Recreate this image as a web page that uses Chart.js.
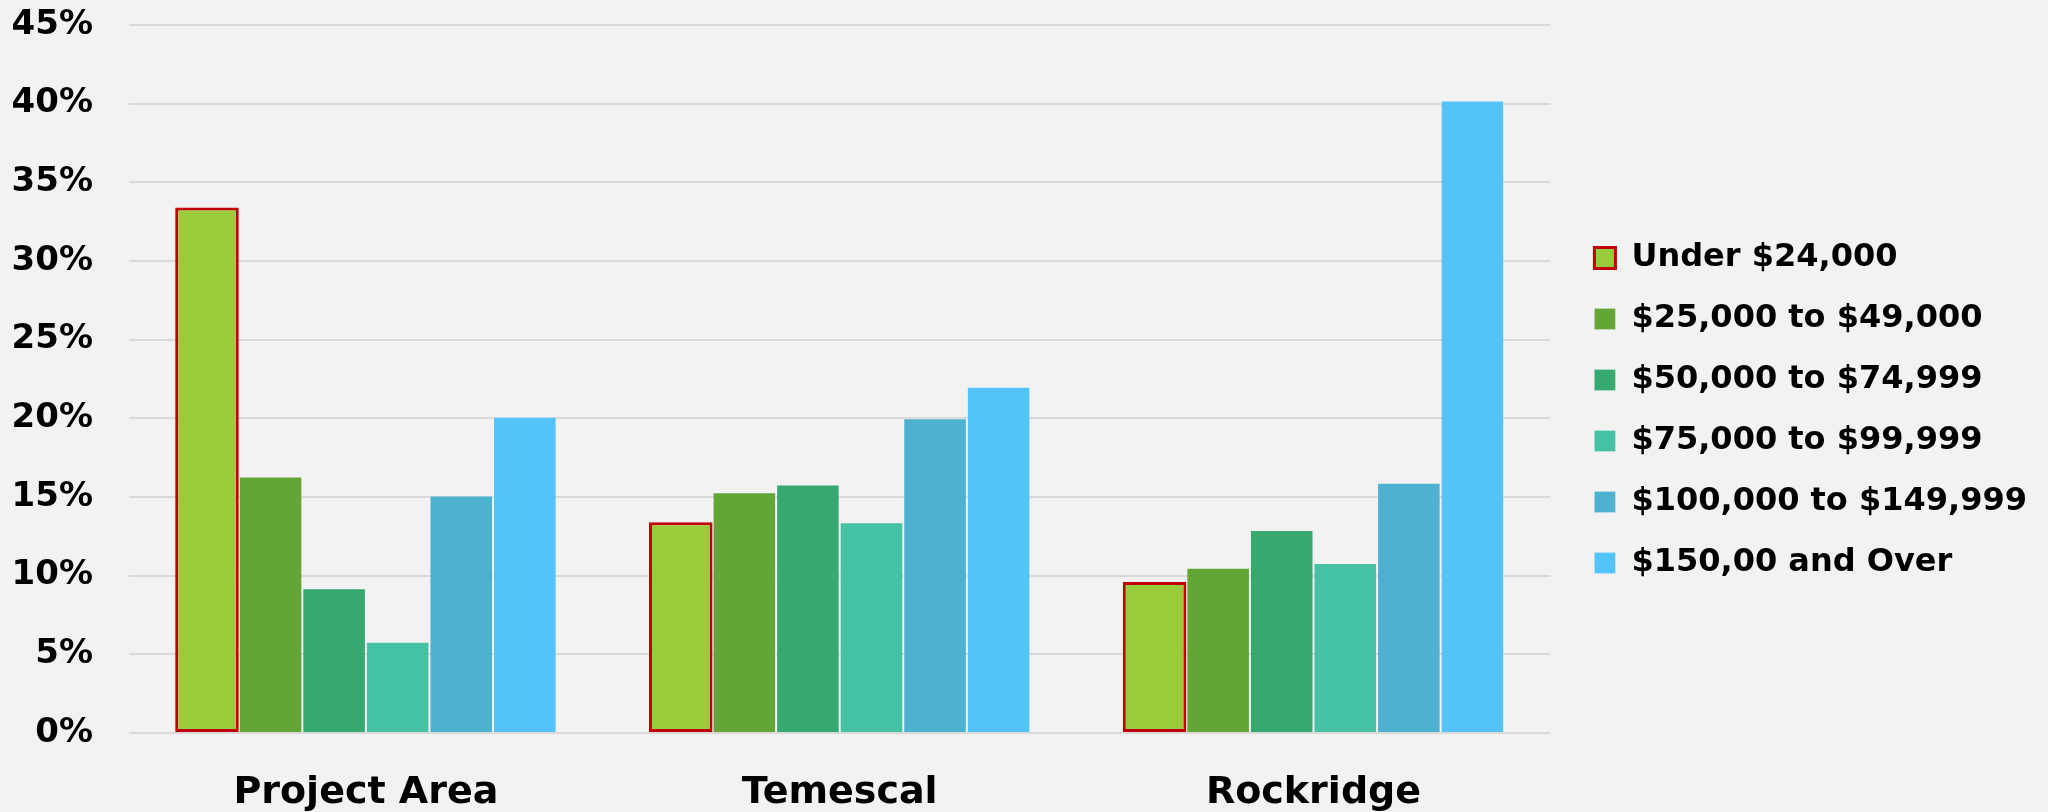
<!DOCTYPE html>
<html>
<head>
<meta charset="utf-8">
<title>Household Income Distribution</title>
<script src="https://cdn.jsdelivr.net/npm/chart.js@4.4.1/dist/chart.umd.min.js"></script>
<style>
  html, body { margin: 0; padding: 0; background: #F2F2F2; }
  #wrap { width: 2048px; height: 812px; position: relative; }
</style>
</head>
<body>
<div id="wrap"><canvas id="chart" width="2048" height="812"></canvas></div>
<script>
// Neighbourhoods compared
const areas = ['Project Area', 'Temescal', 'Rockridge'];

// Income brackets
const brackets = [
  'Under $24,000',
  '$25,000 to $49,000',
  '$50,000 to $74,999',
  '$75,000 to $99,999',
  '$100,000 to $149,999',
  '$150,00 and Over'
];

// Share of households (%) per bracket, in area order
const under24k   = [33.4, 13.4, 9.6];
const k25to49    = [16.3, 15.3, 10.5];
const k50to74    = [9.2, 15.8, 12.9];
const k75to99    = [5.8, 13.4, 10.8];
const k100to149  = [15.1, 20.0, 15.9];
const k150plus   = [20.1, 22.0, 40.2];

// Y axis tick values
const yTicks = [0, 5, 10, 15, 20, 25, 30, 35, 40, 45];

const seriesValues = [under24k, k25to49, k50to74, k75to99, k100to149, k150plus];
const fills = ['#9ACB3A', '#64A538', '#37A870', '#45C1A4', '#4EB1D0', '#53C3FA'];

const FONT = '"DejaVu Sans", sans-serif';

const datasets = brackets.map((label, i) => {
  const first = i === 0;
  return {
    label: label,
    data: seriesValues[i],
    backgroundColor: fills[i],
    borderColor: first ? '#C00000' : 'rgba(255,255,255,0.2)',
    borderWidth: first ? 3 : 1,
    borderSkipped: first ? false : 'start',
    categoryPercentage: 0.805,
    barPercentage: 1.0
  };
});

// Page background
const bgPlugin = {
  id: 'bg',
  beforeDraw(chart) {
    const c = chart.ctx;
    c.save();
    c.fillStyle = '#F2F2F2';
    c.fillRect(0, 0, chart.width, chart.height);
    c.restore();
  }
};

// Nudge the legend block: a bit further from the plot and slightly higher
const legendNudge = {
  id: 'legendNudge',
  afterLayout(chart) {
    const lg = chart.legend;
    if (lg) {
      lg.left += 15; lg.right += 15;
      lg.top -= 8; lg.bottom -= 8;
    }
  }
};

new Chart(document.getElementById('chart'), {
  type: 'bar',
  data: { labels: areas, datasets: datasets },
  plugins: [bgPlugin, legendNudge],
  options: {
    responsive: false,
    animation: false,
    devicePixelRatio: 1,
    layout: { padding: { top: 25, right: 26, bottom: 0, left: 0 } },
    plugins: {
      tooltip: { enabled: false },
      legend: {
        position: 'right',
        align: 'center',
        labels: {
          boxWidth: 21,
          boxHeight: 21,
          padding: 29,
          color: '#000000',
          font: { family: FONT, size: 32, weight: 'bold' }
        }
      }
    },
    scales: {
      x: {
        grid: { display: false },
        border: { display: false },
        ticks: {
          color: '#000000',
          padding: 29,
          font: { family: FONT, size: 38, weight: 'bold' }
        },
        afterFit(scale) { scale.height = 79; }
      },
      y: {
        min: 0,
        max: 45,
        afterBuildTicks(scale) { scale.ticks = yTicks.map(v => ({ value: v })); },
        grid: { color: '#D9D9D9', lineWidth: 2, drawTicks: false },
        border: { display: false },
        ticks: {
          color: '#000000',
          padding: 36,
          font: { family: FONT, size: 34, weight: 'bold' },
          callback: v => v + '%'
        },
        afterFit(scale) {
          scale.width = 129;
          scale.paddingTop = 0;
          scale.paddingBottom = 0;
        }
      }
    }
  }
});
</script>
</body>
</html>
